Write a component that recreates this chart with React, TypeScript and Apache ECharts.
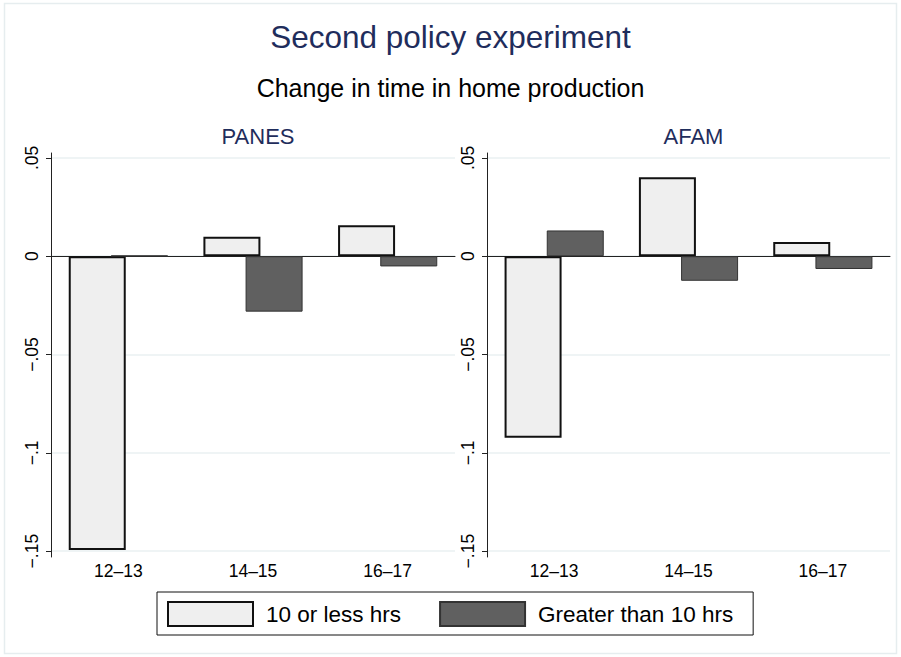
import React, { useEffect, useRef } from "react";
import * as echarts from "echarts";

const categories = ["12–13", "14–15", "16–17"];
const panelTitles = ["PANES", "AFAM"];
const seriesNames = ["10 or less hrs", "Greater than 10 hrs"];
const panesLow = [-0.1495, 0.0099, 0.0158];
const panesHigh = [0.0003, -0.0282, -0.0052];
const afamLow = [-0.0924, 0.0402, 0.0072];
const afamHigh = [0.0131, -0.0125, -0.0065];
const yTicks = [-0.15, -0.1, -0.05, 0, 0.05];

const FONT = "'Liberation Sans', Arial, Helvetica, sans-serif";
const NAVY = "#1f2d5c";

function fmt(v: number): string {
  if (Math.abs(v) < 1e-9) return "0";
  const s = Math.abs(v).toString().replace(/^0/, "");
  return (v < 0 ? "\u2212" : "") + s;
}

export default function App() {
  const ref = useRef<HTMLDivElement>(null);
  useEffect(() => {
    if (!ref.current) return;
    const chart = echarts.init(ref.current, undefined, { renderer: "svg" });
    const grids = [
      { left: 51, top: 153, width: 404, height: 404 },
      { left: 487, top: 153, width: 403, height: 404 },
    ];
    const lightStyle = { color: "#efefef", borderColor: "#111111", borderWidth: 2 };
    const darkStyle = { color: "#606060", borderColor: "#333333", borderWidth: 1 };
    const data = [
      [panesLow, panesHigh],
      [afamLow, afamHigh],
    ];
    const series: any[] = [];
    data.forEach((pair, i) => {
      series.push({
        type: "bar",
        name: seriesNames[0],
        xAxisIndex: i,
        yAxisIndex: i,
        data: pair[0],
        barWidth: 57,
        barGap: "-26%",
        itemStyle: lightStyle,
      });
      series.push({
        type: "bar",
        name: seriesNames[1],
        xAxisIndex: i,
        yAxisIndex: i,
        data: pair[1],
        barWidth: 57,
        barGap: "-26%",
        itemStyle: darkStyle,
      });
    });
    chart.setOption({
      animation: false,
      backgroundColor: "#ffffff",
      textStyle: { fontFamily: FONT },
      title: [
        {
          text: "Second policy experiment",
          left: "center",
          top: 16,
          textStyle: { fontFamily: FONT, fontSize: 31.5, fontWeight: "normal", color: NAVY },
        },
        {
          text: "Change in time in home production",
          left: "center",
          top: 70,
          textStyle: { fontFamily: FONT, fontSize: 25, fontWeight: "normal", color: "#000" },
        },
        ...panelTitles.map((t, i) => ({
          text: t,
          left: grids[i].left + grids[i].width / 2,
          textAlign: "center",
          top: 120,
          textStyle: { fontFamily: FONT, fontSize: 22, fontWeight: "normal", color: NAVY },
        })),
      ],
      grid: grids.map((g) => ({ ...g, containLabel: false })),
      xAxis: grids.map((_, i) => ({
        type: "category",
        gridIndex: i,
        data: categories,
        axisLine: { show: true, lineStyle: { color: "#222", width: 1 } },
        axisTick: { show: false },
        axisLabel: { fontFamily: FONT, fontSize: 17.5, color: "#000", margin: 5 },
        splitLine: { show: false },
      })),
      yAxis: grids.map((_, i) => ({
        type: "value",
        gridIndex: i,
        min: -0.153,
        max: 0.0525,
        axisLine: { show: true, lineStyle: { color: "#222", width: 1 } },
        axisTick: { show: true, length: 5, customValues: yTicks, lineStyle: { color: "#222" } },
        axisLabel: {
          customValues: yTicks,
          rotate: 90,
          fontFamily: FONT,
          fontSize: 17.5,
          color: "#000",
          margin: 10,
          formatter: (v: number) => fmt(v),
        },
        splitLine: { show: true, lineStyle: { color: "#eaf1f2", width: 1.5 } },
      })),
      legend: {
        data: seriesNames,
        left: 157,
        top: 592,
        orient: "horizontal",
        itemWidth: 85,
        itemHeight: 24,
        itemGap: 38,
        padding: [9, 20, 8, 10],
        borderColor: "#111",
        borderWidth: 1,
        icon: "rect",
        textStyle: { fontFamily: FONT, fontSize: 22.5, color: "#000", padding: [0, 0, 0, 8] },
        selectedMode: false,
      },
      graphic: [
        {
          type: "rect",
          shape: { x: 4.5, y: 3.5, width: 892, height: 650 },
          style: { fill: "none", stroke: "#e6edef", lineWidth: 1.5 },
          silent: true,
          z: -1,
        },
      ],
      series,
    });
    return () => chart.dispose();
  }, []);
  return (
    <div
      ref={ref}
      style={{ position: "absolute", left: 0, top: 0, width: 901, height: 657 }}
    />
  );
}
